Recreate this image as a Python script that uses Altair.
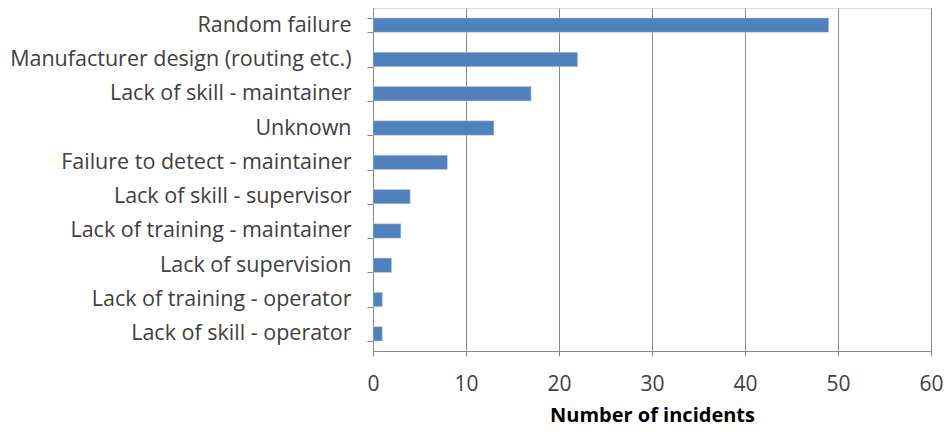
import altair as alt
import pandas as pd

categories = [
    "Random failure",
    "Manufacturer design (routing etc.)",
    "Lack of skill - maintainer",
    "Unknown",
    "Failure to detect - maintainer",
    "Lack of skill - supervisor",
    "Lack of training - maintainer",
    "Lack of supervision",
    "Lack of training - operator",
    "Lack of skill - operator",
]
values = [49, 22, 17, 13, 8, 4, 3, 2, 1, 1]
x_ticks = [0, 10, 20, 30, 40, 50, 60]

df = pd.DataFrame({"cause": categories, "count": values})

FONT = "Open Sans"
TXT = "#404040"

chart = (
    alt.Chart(df)
    .mark_bar(color="#4F81BD", stroke="#c6d4e8", strokeWidth=0.5)
    .encode(
        x=alt.X(
            "count:Q",
            scale=alt.Scale(domain=[0, 60], nice=False, zero=True),
            axis=alt.Axis(
                values=x_ticks,
                title="Number of incidents",
                titleFont=FONT,
                titleFontSize=20,
                titleFontWeight="bold",
                titleColor="#000000",
                titlePadding=11,
                labelFont=FONT,
                labelFontSize=21,
                labelColor=TXT,
                labelPadding=17,
                tickSize=5,
                tickColor="#888888",
                domainColor="#888888",
                grid=True,
                gridColor="#888888",
                gridWidth=1,
                labelFlush=False,
            ),
        ),
        y=alt.Y(
            "cause:N",
            sort=categories,
            scale=alt.Scale(paddingInner=0.58, paddingOuter=0.29),
            axis=alt.Axis(
                title=None,
                labelFont=FONT,
                labelFontSize=21.5,
                labelColor=TXT,
                labelPadding=16,
                tickSize=6,
                tickBand="extent",
                tickColor="#888888",
                domainColor="#888888",
                grid=False,
                labelLimit=400,
            ),
        ),
    )
    .properties(
        width=558,
        height=343,
        autosize=alt.AutoSizeParams(type="none"),
        padding={"left": 365, "top": 0, "right": 13, "bottom": 75},
    )
    .configure_view(stroke=None)
    .configure(background="white")
)

chart.save("out.html", embed_options={"renderer": "svg", "actions": False})
